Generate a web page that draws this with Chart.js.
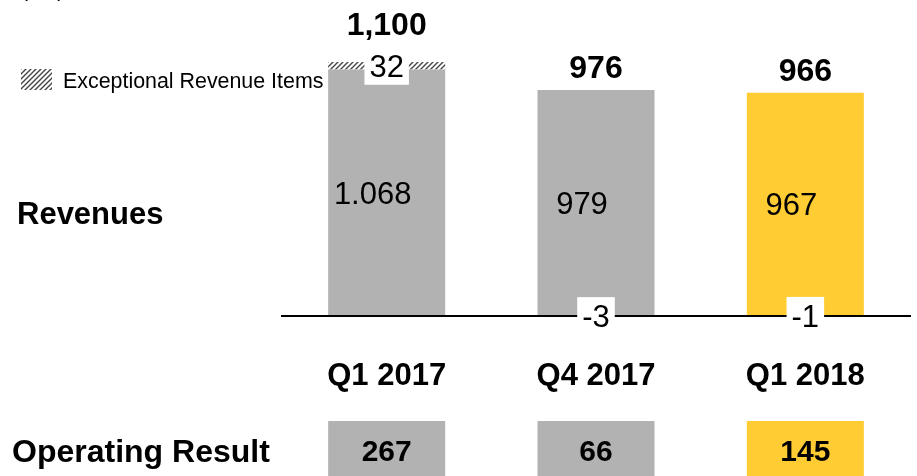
<!DOCTYPE html>
<html lang="en">
<head>
<meta charset="UTF-8">
<title>Revenues and Operating Result</title>
<script src="https://cdn.jsdelivr.net/npm/chart.js"></script>
<style>
  html, body { margin: 0; padding: 0; background: #fff; }
  .chart-box { position: relative; width: 917px; height: 476px; }
</style>
</head>
<body>
<div class="chart-box"><canvas id="revenueChart"></canvas></div>
<script>
const quarters = ['Q1 2017', 'Q4 2017', 'Q1 2018'];
const coreRevenues = [1068, 979, 967];
const exceptionalItems = [32, -3, -1];
const operatingResult = [267, 66, 145];
const barColors = ['#b2b2b2', '#b2b2b2', '#ffcc33'];

const FONT = '"Liberation Sans", Arial, sans-serif';
const canvas = document.getElementById('revenueChart');
const ctx = canvas.getContext('2d');

// small diagonal hatch used for the exceptional items
function makeHatch() {
    const c = document.createElement('canvas');
    c.width = 5; c.height = 5;
    const g = c.getContext('2d');
    g.fillStyle = '#fff';
    g.fillRect(0, 0, 5, 5);
    g.strokeStyle = '#444';
    g.lineWidth = 1.4;
    g.beginPath();
    g.moveTo(-1, 6); g.lineTo(6, -1);
    g.moveTo(-1, 1); g.lineTo(1, -1);
    g.moveTo(4, 6); g.lineTo(6, 4);
    g.stroke();
    return ctx.createPattern(c, 'repeat');
}
const hatch = makeHatch();

function text(c, str, x, cy, size, bold, align) {
    c.font = (bold ? 'bold ' : '') + size + 'px ' + FONT;
    c.textAlign = align || 'center';
    c.textBaseline = 'alphabetic';
    c.fillStyle = '#000';
    c.fillText(str, x, cy + size * 0.36);
}

const labelsPlugin = {
    id: 'revenueLabels',
    afterDraw(chart) {
        const c = chart.ctx;
        const y = chart.scales.y;
        const core = chart.getDatasetMeta(0).data;
        c.save();

        // unit and row captions
        text(c, '(€m)', 21, -11, 21, false, 'left');
        text(c, 'Revenues', 17, 213, 31, true, 'left');
        text(c, 'Operating Result', 12, 450, 32, true, 'left');

        // legend for the hatched part
        c.fillStyle = hatch;
        c.fillRect(21, 69, 31, 21);
        text(c, 'Exceptional Revenue Items', 63, 80, 21.4, false, 'left');

        core.forEach((bar, i) => {
            const x = bar.x;
            const w = bar.width;

            // core revenue inside the bar
            const mid = (y.getPixelForValue(0) + y.getPixelForValue(coreRevenues[i])) / 2;
            text(c, coreRevenues[i].toLocaleString('de-DE'), x - 14, mid, 31, false);

            // exceptional item in a white box on its own segment
            const ex = exceptionalItems[i];
            const exBase = ex > 0 ? coreRevenues[i] : 0;
            const exMid = (y.getPixelForValue(exBase) + y.getPixelForValue(exBase + ex)) / 2;
            c.font = '31px ' + FONT;
            const tw = c.measureText(String(ex)).width + 10;
            c.fillStyle = '#fff';
            c.fillRect(x - tw / 2, exMid - 19, tw, 38);
            text(c, String(ex), x, exMid, 31, false);

            // total on top
            const total = coreRevenues[i] + ex;
            let top = y.getPixelForValue(Math.max(total, coreRevenues[i]));
            if (ex > 0) top = exMid - 19;
            text(c, total.toLocaleString('en-US'), x, top - 23, 32, true);

            // operating result row
            c.fillStyle = barColors[i];
            c.fillRect(x - w / 2, 421, w, 60);
            text(c, String(operatingResult[i]), x, 450, 30, true);
        });
        c.restore();
    }
};

new Chart(ctx, {
    type: 'bar',
    data: {
        labels: quarters,
        datasets: [{
            label: 'Revenues',
            data: coreRevenues,
            backgroundColor: barColors
        }, {
            label: 'Exceptional Revenue Items',
            data: exceptionalItems,
            backgroundColor: exceptionalItems.map((v, i) => v > 0 ? hatch : barColors[i])
        }]
    },
    options: {
        responsive: true,
        maintainAspectRatio: false,
        animation: false,
        events: [],
        layout: { padding: { left: 282, right: 7, top: 39, bottom: 39 } },
        datasets: { bar: { categoryPercentage: 1, barPercentage: 0.559 } },
        plugins: { legend: { display: false }, tooltip: { enabled: false } },
        scales: {
            x: {
                stacked: true,
                grid: { display: false, drawTicks: false },
                border: { display: true, color: '#000', width: 2, z: 1 },
                ticks: { color: '#000', padding: 42, font: { family: FONT, size: 31, weight: 'bold' } }
            },
            y: {
                stacked: true,
                display: false,
                min: 0,
                max: 1200
            }
        }
    },
    plugins: [labelsPlugin]
});
</script>
</body>
</html>
